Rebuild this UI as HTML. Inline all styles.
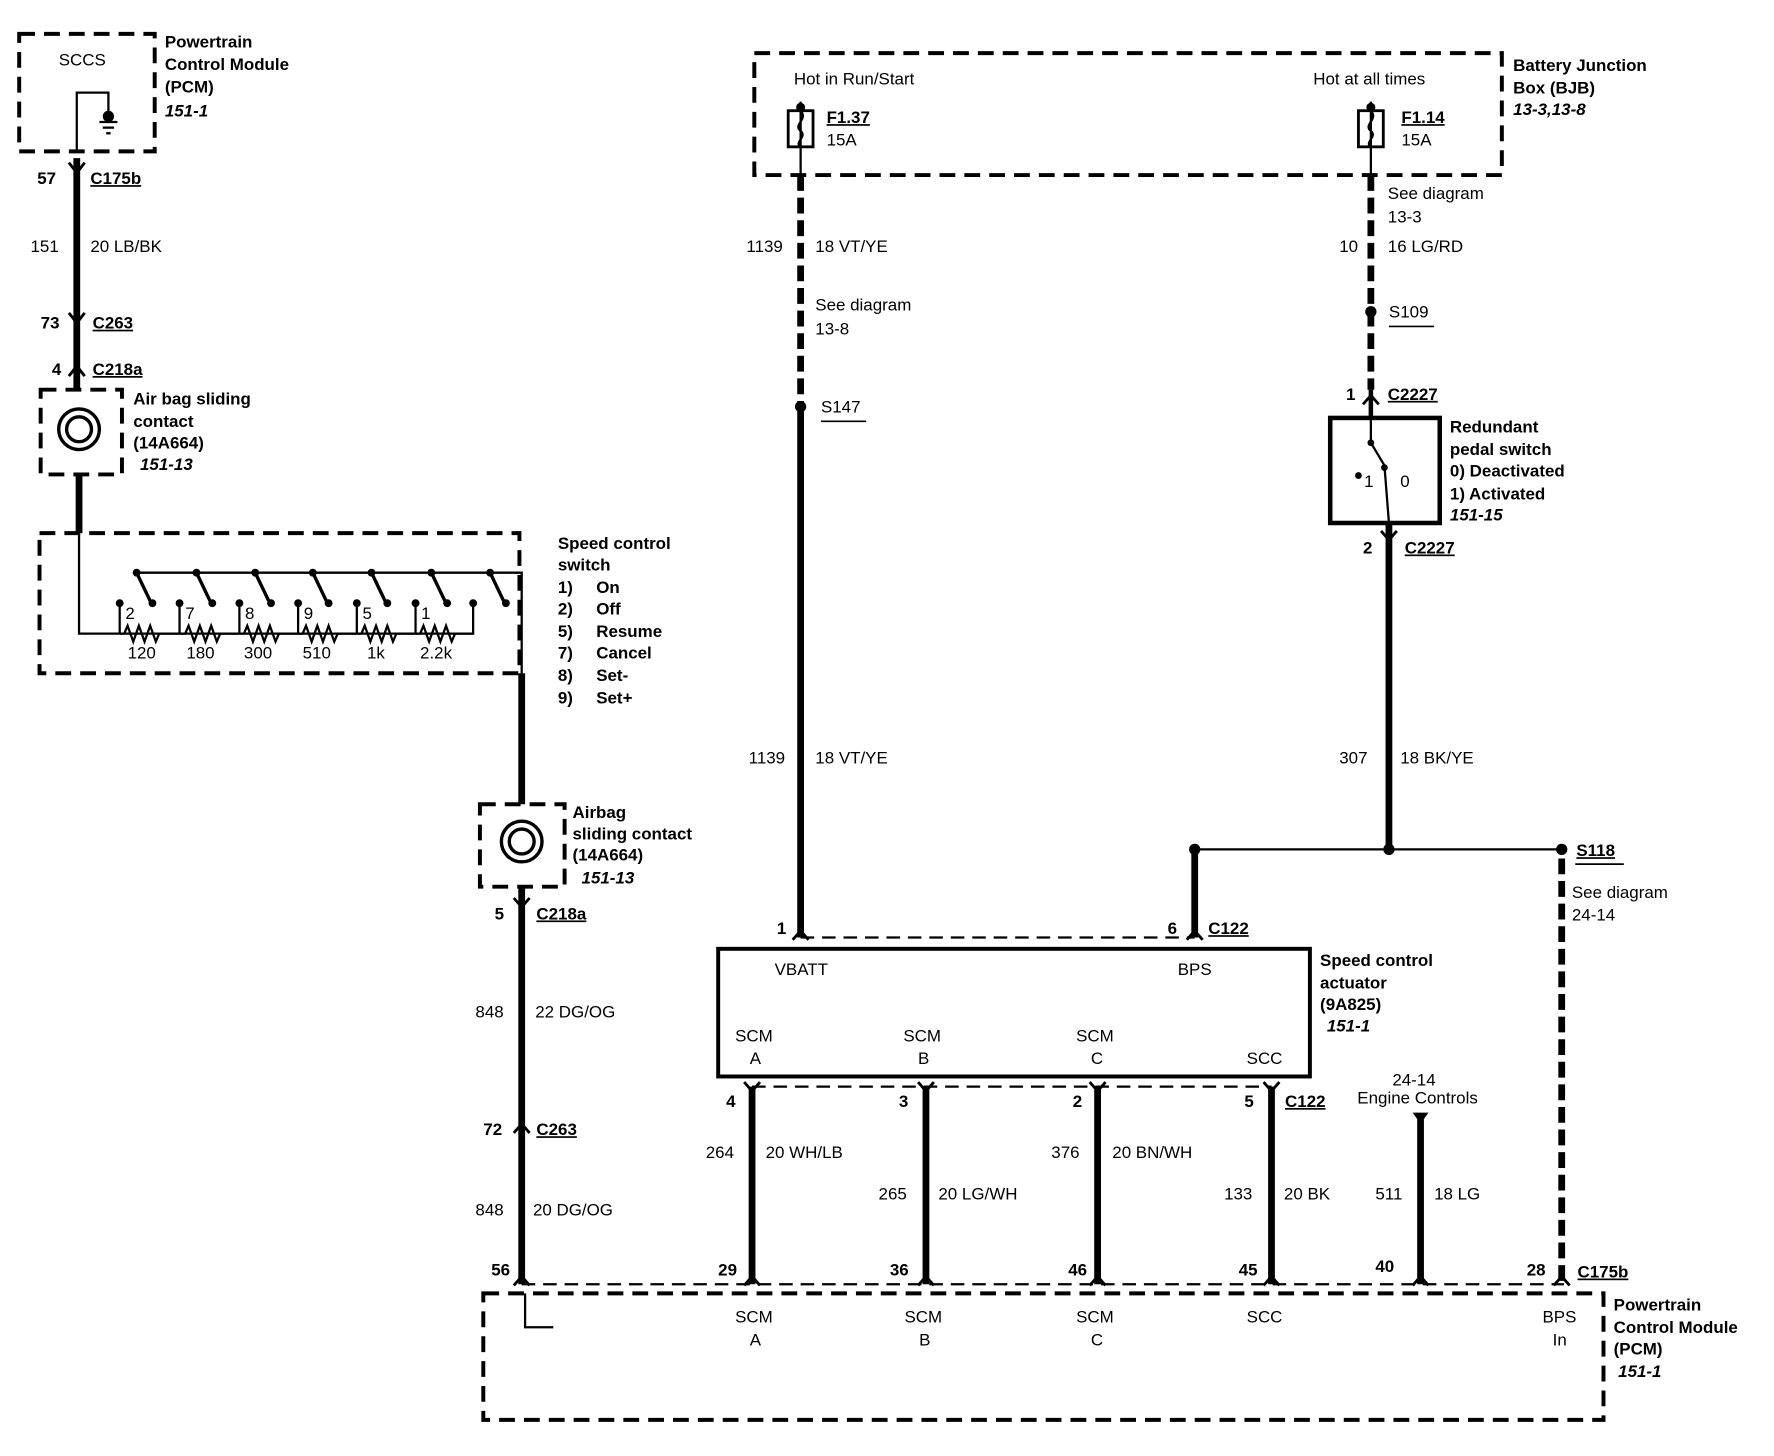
<!DOCTYPE html>
<html><head><meta charset="utf-8"><style>
html,body{margin:0;padding:0;background:#fff;}
svg{display:block;}
text{font-family:"Liberation Sans",Arial,sans-serif;font-size:15px;fill:#000;}
.b{font-weight:bold;}
.i{font-weight:bold;font-style:italic;}
.u{font-weight:bold;text-decoration:underline;}
</style></head><body>
<svg width="1774" height="1456" viewBox="0 0 1571 1289" preserveAspectRatio="none" xmlns="http://www.w3.org/2000/svg">
<g fill="none" stroke="#000">
<!-- dashed boxes -->
<g stroke-width="3.5" stroke-dasharray="14,8">
<rect x="17" y="30" width="120" height="104"/>
<rect x="36" y="345" width="72" height="75"/>
<rect x="35" y="472" width="425" height="124"/>
<rect x="425" y="712" width="75" height="73"/>
<rect x="668" y="47" width="662" height="108"/>
<rect x="428" y="1145" width="992" height="112"/>
</g>
<!-- thin dashed link lines -->
<g stroke-width="2" stroke-dasharray="12,7">
<line x1="709" y1="830" x2="1058" y2="830"/>
<line x1="666" y1="962" x2="1126" y2="962"/>
<line x1="462" y1="1137" x2="1385" y2="1137"/>
</g>
<!-- solid boxes -->
<rect x="636" y="840" width="524" height="113" stroke-width="3.5"/>
<rect x="1178" y="370" width="97" height="93" stroke-width="4"/>
<!-- thick wires -->
<g stroke-width="6">
<line x1="68" y1="140" x2="68" y2="345"/>
<line x1="70" y1="420" x2="70" y2="472"/>
<line x1="462" y1="596" x2="462" y2="712"/>
<line x1="462" y1="785" x2="462" y2="1137"/>
<line x1="709" y1="360" x2="709" y2="830"/>
<line x1="1230" y1="463" x2="1230" y2="752"/>
<line x1="1058" y1="752" x2="1058" y2="830"/>
<line x1="666" y1="962" x2="666" y2="1137"/>
<line x1="820" y1="962" x2="820" y2="1137"/>
<line x1="972" y1="962" x2="972" y2="1137"/>
<line x1="1126" y1="962" x2="1126" y2="1137"/>
<line x1="1258" y1="990" x2="1258" y2="1137"/>
</g>
<g stroke-width="6" stroke-dasharray="14,6">
<line x1="709" y1="155" x2="709" y2="360"/>
<line x1="1214" y1="155" x2="1214" y2="345"/>
<line x1="1383" y1="760" x2="1383" y2="1137"/>
</g>
<line x1="1214" y1="345" x2="1214" y2="370" stroke-width="4"/>
<!-- thin lines -->
<g stroke-width="2">
<polyline points="68,135 68,82 96,82 96,100"/>
<line x1="88" y1="108" x2="104" y2="108"/><line x1="91" y1="113" x2="101" y2="113"/><line x1="94" y1="118" x2="98" y2="118"/>
<line x1="1058" y1="752" x2="1383" y2="752"/>
<polyline points="70,472 70,561 419,561 419,534"/>
<polyline points="121,507 462,507 462,596"/>
<line x1="709" y1="90" x2="709" y2="155"/>
<line x1="1214" y1="90" x2="1214" y2="155"/>
<path d="M465,1145 L465,1175 L490,1175"/>
<line x1="1214" y1="370" x2="1214" y2="392"/>
<line x1="1214" y1="392" x2="1226" y2="412"/>
<line x1="1226" y1="412" x2="1230" y2="463"/>
</g>
<!-- fuses -->
<g stroke-width="2.5"><rect x="698" y="98" width="22" height="32"/><rect x="1203" y="98" width="22" height="32"/></g>
<path d="M709,98 C716,106 702,110 709,116 C715,121 703,126 709,130" stroke-width="2"/>
<path d="M1214,98 C1221,106 1207,110 1214,116 C1220,121 1208,126 1214,130" stroke-width="2"/>
<!-- airbag circles -->
<g stroke-width="3"><circle cx="70" cy="380" r="18"/><circle cx="70" cy="380" r="11"/><circle cx="462" cy="745" r="18"/><circle cx="462" cy="745" r="11"/></g>
<!-- resistors -->
<g stroke-width="2">
<path d="M106,561 L110,561 L113,554 L118,568 L123,554 L128,568 L133,554 L138,568 L141,561 L159,561"/>
<path d="M159,561 L164,561 L167,554 L172,568 L177,554 L182,568 L187,554 L192,568 L195,561 L212,561"/>
<path d="M212,561 L216,561 L219,554 L224,568 L229,554 L234,568 L239,554 L244,568 L247,561 L264,561"/>
<path d="M264,561 L268,561 L271,554 L276,568 L281,554 L286,568 L291,554 L296,568 L299,561 L316,561"/>
<path d="M316,561 L320,561 L323,554 L328,568 L333,554 L338,568 L343,554 L348,568 L351,561 L368,561"/>
<path d="M368,561 L372,561 L375,554 L380,568 L385,554 L390,568 L395,554 L400,568 L403,561 L419,561"/>
</g>
<g stroke-width="2">
<line x1="106" y1="534" x2="106" y2="561"/><line x1="159" y1="534" x2="159" y2="561"/><line x1="212" y1="534" x2="212" y2="561"/><line x1="264" y1="534" x2="264" y2="561"/><line x1="316" y1="534" x2="316" y2="561"/><line x1="368" y1="534" x2="368" y2="561"/>
</g>
<g stroke-width="3">
<line x1="121" y1="507" x2="133" y2="532"/><line x1="174" y1="507" x2="186" y2="532"/><line x1="226" y1="507" x2="238" y2="532"/><line x1="277" y1="507" x2="289" y2="532"/><line x1="329" y1="507" x2="341" y2="532"/><line x1="382" y1="507" x2="394" y2="532"/><line x1="434" y1="507" x2="446" y2="532"/>
</g>
<!-- connector chevrons -->
<g stroke-width="2.5">
<path d="M61,144 L68,153 L75,144"/><path d="M61,277 L68,286 L75,277"/><path d="M61,333 L68,324 L75,333"/>
<path d="M455,795 L462,803 L469,795"/><path d="M455,1003 L462,995 L469,1003"/><path d="M455,1138 L462,1130 L469,1138"/>
<path d="M702,832 L709,824 L716,832"/><path d="M1051,832 L1058,824 L1065,832"/>
<path d="M659,958 L666,966 L673,958"/><path d="M813,958 L820,966 L827,958"/><path d="M965,958 L972,966 L979,958"/><path d="M1119,958 L1126,966 L1133,958"/>
<path d="M659,1138 L666,1130 L673,1138"/><path d="M813,1138 L820,1130 L827,1138"/><path d="M965,1138 L972,1130 L979,1138"/><path d="M1119,1138 L1126,1130 L1133,1138"/><path d="M1251,1138 L1258,1130 L1265,1138"/><path d="M1376,1138 L1383,1130 L1390,1138"/>
<path d="M1207,358 L1214,350 L1221,358"/><path d="M1223,470 L1230,478 L1237,470"/>
</g>
<!-- underlines -->
<g stroke-width="1.5">
<line x1="1230" y1="289" x2="1270" y2="289"/><line x1="727" y1="373" x2="767" y2="373"/><line x1="1395" y1="765" x2="1438" y2="765"/>
</g>
</g>
<!-- dots -->
<g fill="#000">
<circle cx="709" cy="360" r="5"/><circle cx="1214" cy="276" r="5"/>
<circle cx="1058" cy="752" r="5"/><circle cx="1230" cy="752" r="5"/><circle cx="1383" cy="752" r="5"/>
<circle cx="709" cy="95" r="4"/><circle cx="1214" cy="95" r="4"/>
<circle cx="96" cy="103" r="5"/>
<circle cx="106" cy="534" r="3.5"/><circle cx="159" cy="534" r="3.5"/><circle cx="212" cy="534" r="3.5"/><circle cx="264" cy="534" r="3.5"/><circle cx="316" cy="534" r="3.5"/><circle cx="368" cy="534" r="3.5"/><circle cx="419" cy="534" r="3.5"/>
<circle cx="121" cy="507" r="3.5"/><circle cx="174" cy="507" r="3.5"/><circle cx="226" cy="507" r="3.5"/><circle cx="277" cy="507" r="3.5"/><circle cx="329" cy="507" r="3.5"/><circle cx="382" cy="507" r="3.5"/><circle cx="434" cy="507" r="3.5"/>
<circle cx="135" cy="534" r="3.5"/><circle cx="188" cy="534" r="3.5"/><circle cx="240" cy="534" r="3.5"/><circle cx="291" cy="534" r="3.5"/><circle cx="343" cy="534" r="3.5"/><circle cx="396" cy="534" r="3.5"/><circle cx="448" cy="534" r="3.5"/>
<circle cx="1214" cy="392" r="3"/><circle cx="1226" cy="414" r="3"/><circle cx="1203" cy="421" r="3"/>
<path d="M1251,985 L1265,985 L1258,995 Z"/>
</g>
<!-- text -->
<text x="52" y="58">SCCS</text>
<text class="b" x="146" y="42">Powertrain</text><text class="b" x="146" y="62">Control Module</text><text class="b" x="146" y="82">(PCM)</text><text class="i" x="146" y="103">151-1</text>
<text class="b" x="33" y="163">57</text><text class="u" x="80" y="163">C175b</text>
<text x="27" y="223">151</text><text x="80" y="223">20  LB/BK</text>
<text class="b" x="36" y="291">73</text><text class="u" x="82" y="291">C263</text>
<text class="b" x="46" y="332">4</text><text class="u" x="82" y="332">C218a</text>
<text class="b" x="118" y="358">Air bag sliding</text><text class="b" x="118" y="378">contact</text><text class="b" x="118" y="397">(14A664)</text><text class="i" x="124" y="416">151-13</text>
<text class="b" x="494" y="486">Speed control</text><text class="b" x="494" y="505">switch</text>
<text class="b" x="494" y="525">1)</text><text class="b" x="528" y="525">On</text>
<text class="b" x="494" y="544">2)</text><text class="b" x="528" y="544">Off</text>
<text class="b" x="494" y="564">5)</text><text class="b" x="528" y="564">Resume</text>
<text class="b" x="494" y="583">7)</text><text class="b" x="528" y="583">Cancel</text>
<text class="b" x="494" y="603">8)</text><text class="b" x="528" y="603">Set-</text>
<text class="b" x="494" y="623">9)</text><text class="b" x="528" y="623">Set+</text>
<text x="111" y="548">2</text><text x="164" y="548">7</text><text x="217" y="548">8</text><text x="269" y="548">9</text><text x="321" y="548">5</text><text x="373" y="548">1</text>
<text x="113" y="583">120</text><text x="165" y="583">180</text><text x="216" y="583">300</text><text x="268" y="583">510</text><text x="325" y="583">1k</text><text x="372" y="583">2.2k</text>
<text class="b" x="507" y="724">Airbag</text><text class="b" x="507" y="743">sliding contact</text><text class="b" x="507" y="762">(14A664)</text><text class="i" x="515" y="782">151-13</text>
<text class="b" x="438" y="814">5</text><text class="u" x="475" y="814">C218a</text>
<text x="421" y="901">848</text><text x="474" y="901">22  DG/OG</text>
<text class="b" x="428" y="1005">72</text><text class="u" x="475" y="1005">C263</text>
<text x="421" y="1076">848</text><text x="472" y="1076">20 DG/OG</text>
<text class="b" x="435" y="1129">56</text>
<text x="703" y="75">Hot in Run/Start</text><text x="1163" y="75">Hot at all times</text>
<text class="u" x="732" y="109">F1.37</text><text x="732" y="129">15A</text>
<text class="u" x="1241" y="109">F1.14</text><text x="1241" y="129">15A</text>
<text class="b" x="1340" y="63">Battery Junction</text><text class="b" x="1340" y="83">Box (BJB)</text><text class="i" x="1340" y="102">13-3,13-8</text>
<text x="661" y="223">1139</text><text x="722" y="223">18  VT/YE</text>
<text x="722" y="275">See diagram</text><text x="722" y="296">13-8</text>
<text x="727" y="365">S147</text>
<text x="1229" y="176">See diagram</text><text x="1229" y="197">13-3</text>
<text x="1186" y="223">10</text><text x="1229" y="223">16  LG/RD</text>
<text x="1230" y="281">S109</text>
<text class="b" x="1192" y="354">1</text><text class="u" x="1229" y="354">C2227</text>
<text class="b" x="1284" y="383">Redundant</text><text class="b" x="1284" y="403">pedal switch</text><text class="b" x="1284" y="422">0) Deactivated</text><text class="b" x="1284" y="442">1) Activated</text><text class="i" x="1284" y="461">151-15</text>
<text x="1208" y="431">1</text><text x="1240" y="431">0</text>
<text class="b" x="1207" y="490">2</text><text class="u" x="1244" y="490">C2227</text>
<text x="663" y="676">1139</text><text x="722" y="676">18  VT/YE</text>
<text x="1186" y="676">307</text><text x="1240" y="676">18  BK/YE</text>
<text class="u" x="1396" y="758">S118</text>
<text x="1392" y="795">See diagram</text><text x="1392" y="815">24-14</text>
<text class="b" x="688" y="827">1</text><text class="b" x="1034" y="827">6</text><text class="u" x="1070" y="827">C122</text>
<text x="686" y="863">VBATT</text><text x="1043" y="863">BPS</text>
<text class="b" x="1169" y="855">Speed control</text><text class="b" x="1169" y="875">actuator</text><text class="b" x="1169" y="894">(9A825)</text><text class="i" x="1175" y="913">151-1</text>
<text x="651" y="922">SCM</text><text x="664" y="942">A</text>
<text x="800" y="922">SCM</text><text x="813" y="942">B</text>
<text x="953" y="922">SCM</text><text x="966" y="942">C</text>
<text x="1104" y="942">SCC</text>
<text class="b" x="643" y="980">4</text><text class="b" x="796" y="980">3</text><text class="b" x="950" y="980">2</text><text class="b" x="1102" y="980">5</text><text class="u" x="1138" y="980">C122</text>
<text x="1233" y="961">24-14</text><text x="1202" y="977">Engine Controls</text>
<text x="625" y="1025">264</text><text x="678" y="1025">20  WH/LB</text>
<text x="778" y="1062">265</text><text x="831" y="1062">20  LG/WH</text>
<text x="931" y="1025">376</text><text x="985" y="1025">20  BN/WH</text>
<text x="1084" y="1062">133</text><text x="1137" y="1062">20  BK</text>
<text x="1218" y="1062">511</text><text x="1270" y="1062">18  LG</text>
<text class="b" x="636" y="1129">29</text><text class="b" x="788" y="1129">36</text><text class="b" x="946" y="1129">46</text><text class="b" x="1097" y="1129">45</text><text class="b" x="1218" y="1126">40</text><text class="b" x="1352" y="1129">28</text><text class="u" x="1397" y="1131">C175b</text>
<text x="651" y="1171">SCM</text><text x="664" y="1191">A</text>
<text x="801" y="1171">SCM</text><text x="814" y="1191">B</text>
<text x="953" y="1171">SCM</text><text x="966" y="1191">C</text>
<text x="1104" y="1171">SCC</text>
<text x="1366" y="1171">BPS</text><text x="1375" y="1191">In</text>
<text class="b" x="1429" y="1160">Powertrain</text><text class="b" x="1429" y="1180">Control Module</text><text class="b" x="1429" y="1199">(PCM)</text><text class="i" x="1433" y="1219">151-1</text>
</svg>
</body></html>
